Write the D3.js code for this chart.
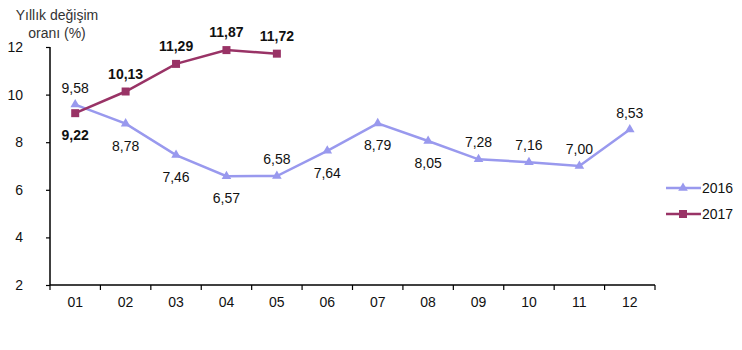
<!DOCTYPE html>
<html><head><meta charset="utf-8">
<script src="https://cdn.jsdelivr.net/npm/d3@7"></script>
<style>body{margin:0;background:#fff}svg{display:block}text{font-family:"Liberation Sans",Arial,sans-serif}</style>
</head><body><div id="c"></div>
<script>
const months = ["01","02","03","04","05","06","07","08","09","10","11","12"];
const values2016 = [9.58,8.78,7.46,6.57,6.58,7.64,8.79,8.05,7.28,7.16,7.00,8.53];
const values2017 = [9.22,10.13,11.29,11.87,11.72];
const labelPos2016 = ["above","below","below","below","above","below","below","below","above","above","above","above"];
const labelPos2017 = ["below","above","above","above","above"];
const yTicks = [2,4,6,8,10,12];
const seriesNames = ["2016","2017"];

const W=742,H=350;
const svg=d3.select("#c").append("svg").attr("width",W).attr("height",H);
const x=d3.scaleBand().domain(months).range([50,655]);
const y=d3.scaleLinear().domain([2,12]).range([285,47]);
const fmt=v=>v.toFixed(2).replace(".",",");
const FS=14;

// y axis
const ya=svg.append("g").attr("transform","translate(50,0)")
  .call(d3.axisLeft(y).tickValues(yTicks).tickSize(4).tickPadding(23).tickFormat(d=>d));
ya.select(".domain").attr("stroke","#000").attr("stroke-width",1.5).attr("d","M0,47V285");
ya.selectAll(".tick line").attr("stroke","#000").attr("stroke-width",1.2);
ya.selectAll(".tick text").attr("font-size",FS).attr("fill","#111");

// x axis
const xa=svg.append("g").attr("transform","translate(0,285)");
xa.append("line").attr("x1",50).attr("x2",655).attr("stroke","#000").attr("stroke-width",1.5);
const edges=months.map(m=>x(m)).concat([x(months[11])+x.bandwidth()]);
xa.selectAll("line.t").data(edges).join("line").attr("class","t")
  .attr("x1",d=>d).attr("x2",d=>d).attr("y1",0).attr("y2",5).attr("stroke","#000").attr("stroke-width",1.2);
xa.selectAll("text").data(months).join("text")
  .attr("x",d=>x(d)+x.bandwidth()/2).attr("y",22).attr("text-anchor","middle")
  .attr("font-size",FS).attr("fill","#111").text(d=>d);

// title
const t=svg.append("text").attr("text-anchor","middle").attr("font-size",FS).attr("fill","#333");
t.append("tspan").attr("x",57).attr("y",20).text("Yıllık değişim");
t.append("tspan").attr("x",57).attr("y",38).text("oranı (%)");

const cx=i=>x(months[i])+x.bandwidth()/2;
const line=d3.line().x((d,i)=>cx(i)).y(d=>y(d));

const c16="#9999ee", c17="#993366";
svg.append("path").datum(values2016).attr("d",line).attr("fill","none").attr("stroke",c16).attr("stroke-width",2.5);
svg.append("path").datum(values2017).attr("d",line).attr("fill","none").attr("stroke",c17).attr("stroke-width",2.5);

const tri=d3.symbol().type(d3.symbolTriangle).size(40);
svg.selectAll("path.m16").data(values2016).join("path").attr("class","m16")
  .attr("d",tri).attr("transform",(d,i)=>`translate(${cx(i)},${y(d)})`).attr("fill",c16);
svg.selectAll("rect.m17").data(values2017).join("rect").attr("class","m17")
  .attr("x",(d,i)=>cx(i)-4).attr("y",d=>y(d)-4).attr("width",8).attr("height",8).attr("fill",c17);

svg.selectAll("text.l16").data(values2016).join("text").attr("class","l16")
  .attr("x",(d,i)=>cx(i)).attr("y",(d,i)=>y(d)+(labelPos2016[i]==="above"?-12:27))
  .attr("text-anchor","middle").attr("font-size",FS).attr("fill","#111").text(fmt);
svg.selectAll("text.l17").data(values2017).join("text").attr("class","l17")
  .attr("x",(d,i)=>cx(i)).attr("y",(d,i)=>y(d)+(labelPos2017[i]==="above"?-13:27))
  .attr("text-anchor","middle").attr("font-size",FS).attr("font-weight","bold").attr("fill","#111").text(fmt);

// legend
const lg=svg.append("g");
[c16,c17].forEach((c,i)=>{
  const yy=188+i*26;
  lg.append("line").attr("x1",666).attr("x2",701).attr("y1",yy).attr("y2",yy).attr("stroke",c).attr("stroke-width",2.5);
  if(i===0) lg.append("path").attr("d",tri).attr("transform",`translate(683,${yy})`).attr("fill",c);
  else lg.append("rect").attr("x",679).attr("y",yy-4).attr("width",8).attr("height",8).attr("fill",c);
  lg.append("text").attr("x",702).attr("y",yy+5).attr("font-size",FS).attr("fill","#111").text(seriesNames[i]);
});
</script></body></html>
